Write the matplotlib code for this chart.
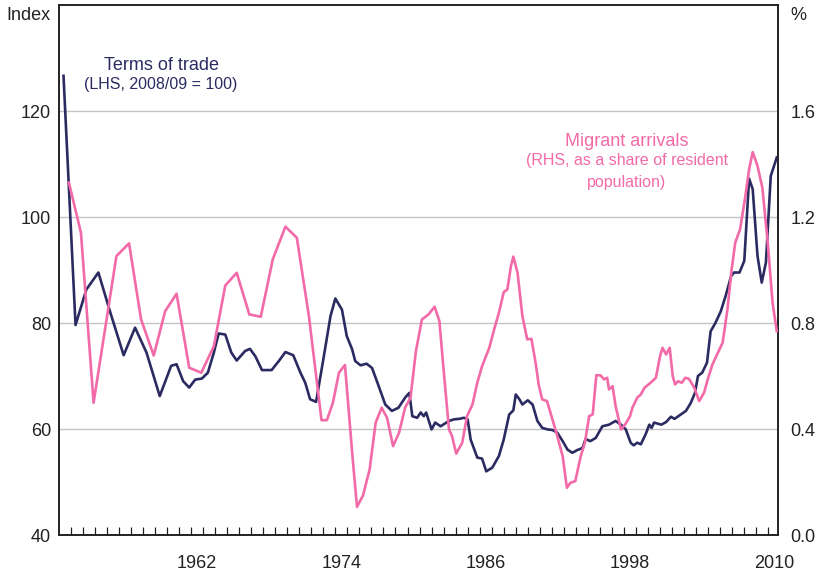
import matplotlib.pyplot as plt

# data
tot_years = [1951.4, 1952.4, 1953.3, 1954.3, 1955.3, 1956.4, 1957.35, 1958.3, 1959.4,
             1960.35, 1960.8, 1961.35, 1961.85, 1962.35, 1962.9, 1963.4, 1963.9, 1964.3,
             1964.85, 1965.35, 1965.8, 1966.5, 1966.9, 1967.35, 1967.9, 1968.7, 1969.3,
             1969.85, 1970.5, 1971.1, 1971.5, 1971.9, 1972.4, 1973.0, 1973.6, 1974.0,
             1974.55, 1974.95, 1975.4, 1975.65, 1976.1, 1976.6, 1977.05, 1977.6, 1978.15,
             1978.7, 1979.25, 1979.8, 1980.15, 1980.4, 1980.8, 1981.1, 1981.35, 1981.55,
             1982.0, 1982.3, 1982.75, 1983.45, 1983.85, 1984.3, 1984.7, 1985.0, 1985.25,
             1985.8, 1986.2, 1986.55, 1987.05, 1987.6, 1988.0, 1988.45, 1988.8, 1989.0,
             1989.3, 1989.55, 1990.0, 1990.4, 1990.8, 1991.2, 1991.65, 1992.05, 1992.45,
             1992.9, 1993.3, 1993.7, 1994.1, 1994.55, 1994.8, 1995.2, 1995.65, 1996.2,
             1996.75, 1997.3, 1997.75, 1998.15, 1998.55, 1998.8, 1999.1, 1999.4, 1999.8,
             2000.1, 2000.3, 2000.5, 2001.1, 2001.5, 2001.9, 2002.2, 2002.7, 2003.15,
             2003.55, 2003.9, 2004.15, 2004.5, 2004.9, 2005.2, 2005.6, 2006.05, 2006.45,
             2006.9, 2007.15, 2007.6, 2008.0, 2008.4, 2008.7, 2009.1, 2009.45, 2009.8,
             2010.2, 2010.7]
tot_index = [126.7, 79.7, 86.4, 89.6, 82.0, 74.0, 79.2, 74.5, 66.3,
             72.0, 72.3, 69.1, 67.9, 69.4, 69.6, 70.7, 74.5, 78.1,
             77.9, 74.5, 73.0, 74.8, 75.2, 73.8, 71.2, 71.2, 72.9,
             74.6, 74.0, 70.7, 68.8, 65.7, 65.2, 73.2, 81.4, 84.7,
             82.6, 77.6, 75.1, 72.9, 72.1, 72.4, 71.6, 68.2, 64.7,
             63.5, 64.1, 66.0, 66.9, 62.5, 62.2, 63.2, 62.5, 63.2,
             60.0, 61.3, 60.6, 61.6, 61.9, 62.0, 62.2, 61.9, 58.1,
             54.7, 54.5, 52.1, 52.8, 55.0, 58.1, 62.8, 63.6, 66.6,
             65.7, 64.7, 65.5, 64.7, 61.6, 60.3, 60.0, 59.9, 59.4,
             57.8, 56.2, 55.6, 56.1, 56.5, 58.2, 57.8, 58.4, 60.6,
             60.9, 61.6, 60.9, 60.0, 57.5, 57.0, 57.5, 57.2, 59.1,
             60.9, 60.3, 61.3, 60.9, 61.4, 62.4, 62.0, 62.8, 63.5,
             65.0, 66.9, 70.1, 70.7, 72.6, 78.5, 80.1, 82.3, 85.2,
             88.9, 89.6, 89.6, 91.8, 107.3, 105.3, 92.7, 87.7, 91.5,
             107.8, 111.3]

mig_years = [1951.85, 1952.85, 1953.9, 1954.85, 1955.8, 1956.85, 1957.85, 1958.9, 1959.85,
             1960.8, 1961.85, 1962.85, 1963.9, 1964.85, 1965.8, 1966.85, 1967.8, 1968.8,
             1969.85, 1970.8, 1971.8, 1972.85, 1973.3, 1973.8, 1974.3, 1974.8, 1975.4,
             1975.8, 1976.3, 1976.85, 1977.35, 1977.85, 1978.3, 1978.8, 1979.3, 1979.8,
             1980.25, 1980.7, 1981.2, 1981.75, 1982.25, 1982.65, 1983.0, 1983.45, 1983.7,
             1984.05, 1984.55, 1984.95, 1985.4, 1985.8, 1986.2, 1986.8, 1987.2, 1987.6,
             1988.0, 1988.3, 1988.6, 1988.8, 1989.15, 1989.55, 1989.95, 1990.3, 1990.65,
             1990.9, 1991.2, 1991.6, 1992.05, 1992.45, 1992.9, 1993.25, 1993.55, 1993.95,
             1994.4, 1994.75, 1995.1, 1995.4, 1995.7, 1996.05, 1996.35, 1996.6, 1996.75,
             1997.05, 1997.3, 1997.75, 1998.1, 1998.5, 1998.7, 1999.1, 1999.4, 1999.7,
             2000.2, 2000.65, 2001.0, 2001.2, 2001.5, 2001.8, 2002.05, 2002.25, 2002.5,
             2002.8, 2003.1, 2003.4, 2003.85, 2004.25, 2004.65, 2005.0, 2005.35, 2005.8,
             2006.2, 2006.6, 2006.95, 2007.25, 2007.65, 2008.05, 2008.4, 2008.7, 2009.1,
             2009.5, 2009.95, 2010.35, 2010.7]
mig_share = [1.331, 1.142, 0.501, 0.777, 1.054, 1.102, 0.815, 0.679, 0.846,
             0.912, 0.633, 0.614, 0.714, 0.943, 0.991, 0.834, 0.825, 1.042,
             1.165, 1.123, 0.828, 0.435, 0.435, 0.501, 0.614, 0.643, 0.312,
             0.108, 0.151, 0.249, 0.425, 0.482, 0.444, 0.337, 0.388, 0.482,
             0.520, 0.696, 0.815, 0.834, 0.863, 0.809, 0.626, 0.400, 0.375,
             0.309, 0.350, 0.450, 0.494, 0.576, 0.639, 0.708, 0.777, 0.840,
             0.918, 0.928, 1.016, 1.052, 0.991, 0.828, 0.740, 0.742, 0.652,
             0.570, 0.513, 0.507, 0.438, 0.375, 0.299, 0.180, 0.199, 0.205,
             0.299, 0.350, 0.450, 0.457, 0.605, 0.604, 0.589, 0.595, 0.551,
             0.563, 0.488, 0.400, 0.419, 0.450, 0.482, 0.520, 0.532, 0.557,
             0.576, 0.595, 0.677, 0.708, 0.683, 0.708, 0.601, 0.570, 0.582,
             0.576, 0.595, 0.591, 0.557, 0.507, 0.538, 0.595, 0.645, 0.689,
             0.727, 0.853, 1.004, 1.105, 1.155, 1.268, 1.381, 1.446, 1.394,
             1.312, 1.105, 0.878, 0.771]

year_ticks = list(range(1952, 2011))
year_labels = ['1962', '1974', '1986', '1998', '2010']
left_ticks = [40, 60, 80, 100, 120]
right_ticks = [0.0, 0.4, 0.8, 1.2, 1.6]

navy = '#2b2b62'
pink = '#f26aa8'

plt.rcParams['font.family'] = ['Liberation Sans', 'DejaVu Sans']
plt.rcParams['font.size'] = 13

fig = plt.figure(figsize=(8.19, 5.75), dpi=100)
ax = fig.add_axes([0.0724, 0.0687, 0.8775, 0.9221])
ax2 = ax.twinx()

ax.plot(tot_years, tot_index, color=navy, linewidth=1.9, zorder=3)
ax2.plot(mig_years, mig_share, color=pink, linewidth=1.9, zorder=3)

ax.set_xlim(1951.05, 2010.8)
ax.set_ylim(40, 140)
ax2.set_ylim(0, 2.0)

# horizontal grid
for v in left_ticks[1:]:
    ax.axhline(v, color='#c4c4c4', linewidth=1.0, zorder=1)

# year ticks along the bottom, labels centred in the year
ax.set_xticks(year_ticks)
ax.set_xticklabels([''] * len(year_ticks))
ax.tick_params(axis='x', which='major', direction='in', length=6, width=0.9, color='#222222')
ax.set_xticks([int(y) + 0.5 for y in year_labels], minor=True)
ax.set_xticklabels(year_labels, minor=True)
ax.tick_params(axis='x', which='minor', length=0, pad=14, labelsize=13, labelcolor='#222222')

ax.set_yticks(left_ticks)
ax.set_yticklabels([str(v) for v in left_ticks])
ax.tick_params(axis='y', length=0, pad=6, labelsize=13, labelcolor='#222222')
ax2.set_yticks(right_ticks)
ax2.set_yticklabels(['%.1f' % v for v in right_ticks])
ax2.tick_params(axis='y', length=0, pad=9, labelsize=13, labelcolor='#222222')

for a in (ax, ax2):
    for s in a.spines.values():
        s.set_linewidth(1.2)
        s.set_color('#222222')

fig.text(51 / 819, 1 - 15 / 575, 'Index', ha='right', va='center', fontsize=13, color='#222222')
fig.text(790 / 819, 1 - 15 / 575, '%', ha='left', va='center', fontsize=13, color='#222222')

fig.text(161 / 819, 1 - 66 / 575, 'Terms of trade', ha='center', va='center', fontsize=13, color=navy)
fig.text(161 / 819, 1 - 85 / 575, '(LHS, 2008/09 = 100)', ha='center', va='center', fontsize=11.5, color=navy)

fig.text(627 / 819, 1 - 141 / 575, 'Migrant arrivals', ha='center', va='center', fontsize=13, color=pink)
fig.text(627 / 819, 1 - 161 / 575, '(RHS, as a share of resident', ha='center', va='center', fontsize=11.5, color=pink)
fig.text(627 / 819, 1 - 182 / 575, 'population)', ha='center', va='center', fontsize=11.5, color=pink)

fig.savefig('out.png', dpi=100)
